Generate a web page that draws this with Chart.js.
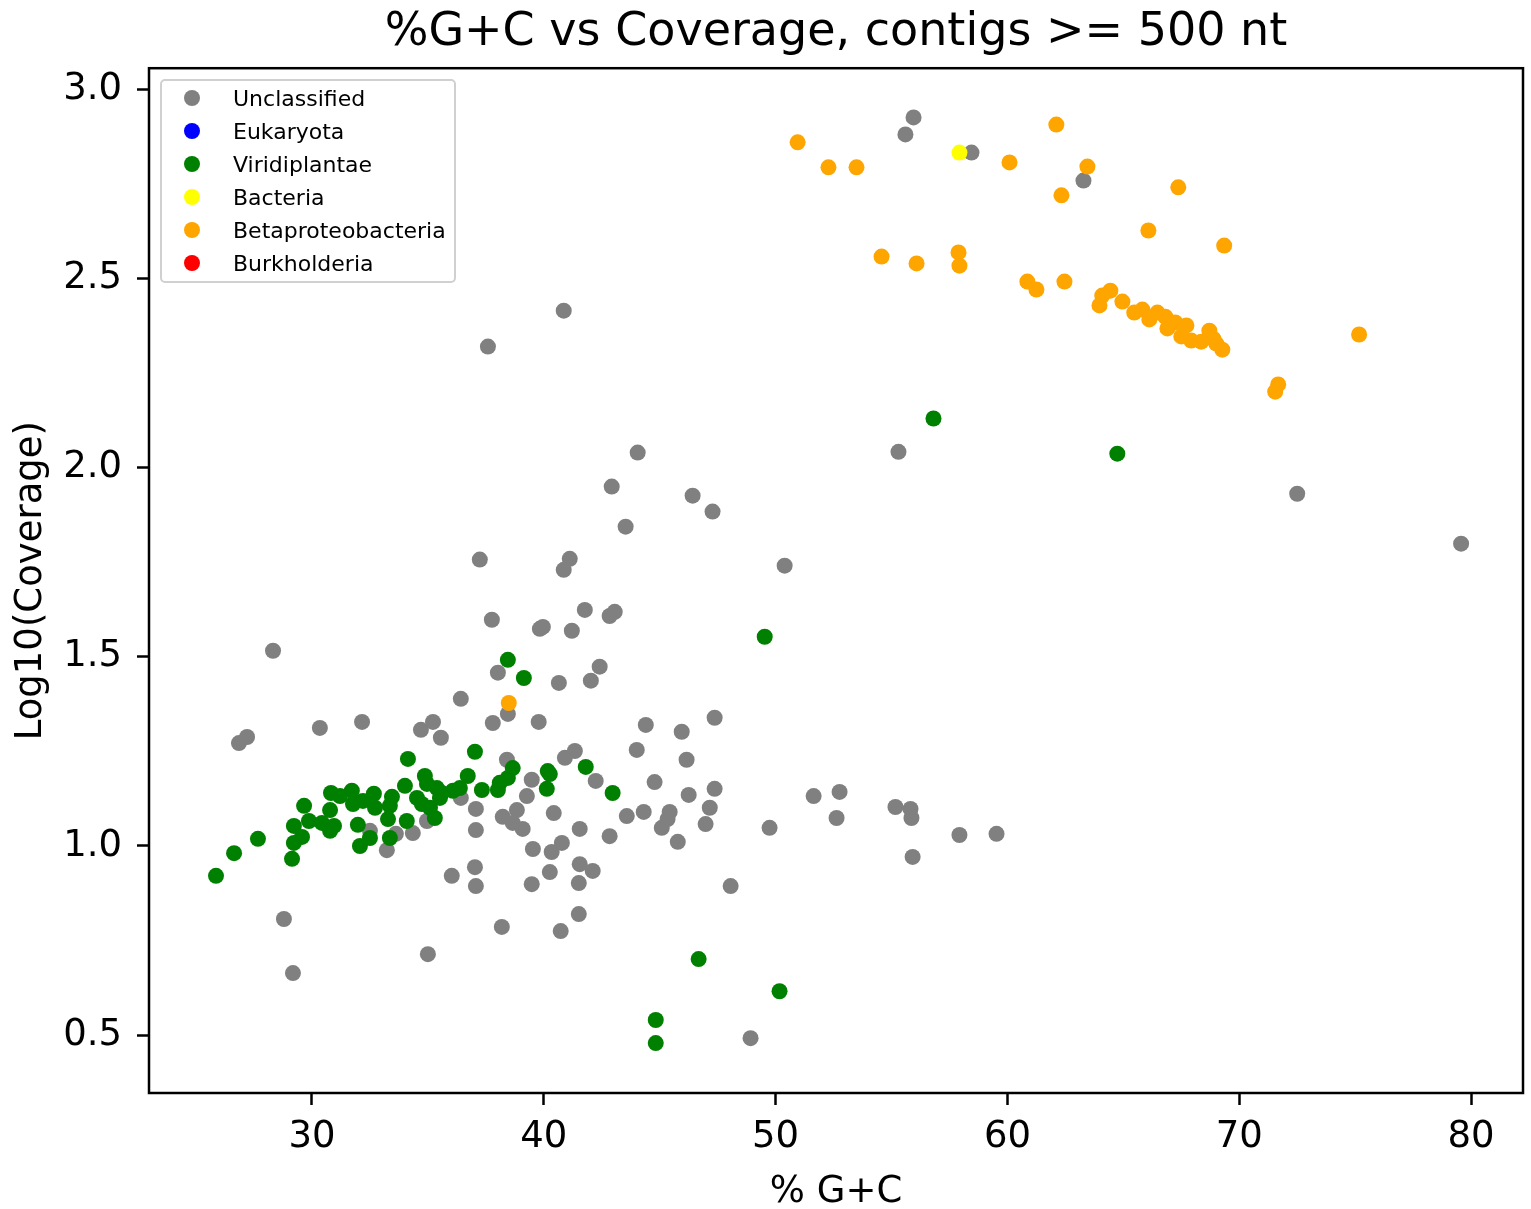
<!DOCTYPE html>
<html>
<head>
<meta charset="utf-8">
<title>%G+C vs Coverage</title>
<script src="https://cdn.jsdelivr.net/npm/chart.js@4.4.1/dist/chart.umd.min.js"></script>
<style>
  html, body { margin: 0; padding: 0; background: #ffffff; }
  #wrap { position: relative; width: 1531px; height: 1209px; }
  #legend {
    position: absolute; left: 160px; top: 79px; width: 292px; height: 200px;
    border: 2px solid #d0d0d0; border-radius: 5px; background: rgba(255,255,255,0.8);
    font-family: "DejaVu Sans", sans-serif; font-size: 22px; color: #000;
  }
  #legend .item { position: absolute; left: 0; height: 33px; width: 100%; }
  #legend .dot { position: absolute; left: 22px; top: 8px; width: 16px; height: 16px; border-radius: 50%; }
  #legend .lbl { position: absolute; left: 71px; top: 0; line-height: 33px; white-space: nowrap; }
</style>
</head>
<body>
<div id="wrap">
  <canvas id="chart" width="1531" height="1209"></canvas>
  <div id="legend"></div>
</div>
<script>
// Taxonomic groups, in plotting order
const groups = ["Unclassified", "Eukaryota", "Viridiplantae", "Bacteria", "Betaproteobacteria", "Burkholderia"];
const groupColors = ["#808080", "#0000ff", "#008000", "#ffff00", "#ffa500", "#ff0000"];

// % G+C and log10(coverage) per contig, by group
const gcUnclassified = [55.95,55.60,58.45,63.28,40.86,37.59,44.05,55.30,72.50,79.57,42.93,46.42,47.28,43.53,41.12,37.24,40.86,50.39,41.77,43.06,42.84,37.76,39.96,39.83,41.21,28.32,42.41,38.02,40.65,42.03,36.42,38.45,39.78,32.16,30.34,35.22,34.70,35.56,37.80,44.40,45.95,47.37,27.20,26.85,44.01,41.34,38.41,40.91,46.16,42.24,39.48,44.78,47.37,39.27,46.25,51.64,52.76,47.16,55.17,55.82,37.07,38.84,40.43,38.23,38.66,39.09,43.58,44.31,45.43,45.34,45.09,52.63,55.86,37.07,41.55,46.98,49.74,42.84,45.78,57.93,59.53,34.35,33.62,32.50,33.23,34.96,36.42,39.53,40.34,40.78,37.03,36.03,37.07,40.26,41.55,42.11,39.48,41.51,48.06,41.51,38.19,40.73,28.79,29.18,35.00,48.92,55.91];
const covUnclassified = [2.926,2.881,2.833,2.759,2.415,2.320,2.040,2.042,1.931,1.799,1.950,1.926,1.884,1.844,1.759,1.757,1.730,1.741,1.624,1.619,1.608,1.598,1.579,1.574,1.569,1.516,1.474,1.458,1.431,1.437,1.389,1.349,1.328,1.328,1.312,1.328,1.307,1.286,1.325,1.320,1.302,1.339,1.288,1.272,1.254,1.251,1.228,1.233,1.228,1.172,1.175,1.169,1.151,1.132,1.135,1.132,1.143,1.101,1.103,1.098,1.098,1.095,1.087,1.077,1.061,1.045,1.079,1.090,1.090,1.071,1.048,1.074,1.074,1.042,1.045,1.058,1.048,1.026,1.011,1.029,1.032,1.034,1.032,1.040,0.989,1.066,1.127,0.992,0.984,1.008,0.944,0.921,0.894,0.931,0.952,0.934,0.899,0.902,0.894,0.820,0.786,0.775,0.807,0.664,0.714,0.492,0.971];

const gcEukaryota = [];
const covEukaryota = [];

const gcViridiplantae = [25.86,26.64,27.67,29.14,29.22,29.57,29.22,29.66,29.87,30.43,30.78,30.95,30.82,31.21,30.78,31.72,31.77,31.98,32.07,32.50,32.20,32.67,32.72,33.28,33.36,33.45,33.36,34.01,34.09,34.14,34.53,34.74,34.87,34.96,35.09,35.30,35.39,35.60,35.52,36.08,36.38,36.72,37.03,37.33,38.02,38.10,38.45,38.66,38.45,39.14,40.17,40.26,40.13,41.81,42.97,49.53,56.81,64.74,46.68,50.17,44.83,44.83];
const covViridiplantae = [0.921,0.981,1.019,0.966,1.008,1.024,1.053,1.106,1.066,1.061,1.040,1.053,1.140,1.132,1.095,1.146,1.111,1.056,1.000,1.021,1.119,1.138,1.101,1.071,1.021,1.130,1.106,1.159,1.066,1.230,1.127,1.111,1.185,1.164,1.101,1.074,1.153,1.140,1.127,1.146,1.153,1.185,1.249,1.148,1.148,1.167,1.180,1.206,1.492,1.444,1.198,1.190,1.151,1.209,1.140,1.553,2.130,2.037,0.701,0.616,0.540,0.479];

const gcBacteria = [57.93];
const covBacteria = [2.833];

const gcBetaproteobacteria = [50.95,52.28,53.49,62.11,60.09,63.45,62.33,67.37,66.08,69.35,54.57,56.08,57.89,57.93,60.86,61.25,62.46,63.97,64.09,64.44,64.96,65.47,65.82,66.12,66.47,66.81,66.90,67.24,67.50,67.72,67.93,68.36,68.71,68.88,69.01,69.27,75.17,71.68,71.55,38.49];
const covBetaproteobacteria = [2.860,2.794,2.794,2.907,2.807,2.796,2.720,2.741,2.627,2.587,2.558,2.540,2.569,2.534,2.492,2.471,2.492,2.429,2.455,2.468,2.439,2.410,2.418,2.392,2.410,2.399,2.368,2.384,2.347,2.376,2.336,2.333,2.362,2.341,2.328,2.312,2.352,2.220,2.201,1.378];

const gcBurkholderia = [];
const covBurkholderia = [];

// Axis ticks and ranges
const xTicks = [30, 40, 50, 60, 70, 80];
const yTicks = [0.5, 1.0, 1.5, 2.0, 2.5, 3.0];
const xRange = [22.97, 82.24];
const yRange = [0.347, 3.056];

const seriesX = [gcUnclassified, gcEukaryota, gcViridiplantae, gcBacteria, gcBetaproteobacteria, gcBurkholderia];
const seriesY = [covUnclassified, covEukaryota, covViridiplantae, covBacteria, covBetaproteobacteria, covBurkholderia];

const FONT = "DejaVu Sans";

const datasets = groups.map((name, i) => ({
  label: name,
  data: seriesX[i].map((x, k) => ({ x: x, y: seriesY[i][k] })),
  backgroundColor: groupColors[i],
  borderColor: groupColors[i],
  borderWidth: 0,
  pointRadius: 8,
  pointHoverRadius: 8,
  // later groups are painted above earlier ones
  order: groups.length - 1 - i
}));

// Full box around the plotting area
const frame = {
  id: "frame",
  afterDraw(chart) {
    const { ctx, chartArea: a } = chart;
    ctx.save();
    ctx.strokeStyle = "#000";
    ctx.lineWidth = 2.5;
    ctx.strokeRect(a.left, a.top, a.right - a.left, a.bottom - a.top);
    ctx.restore();
  }
};

const chart = new Chart(document.getElementById("chart"), {
  type: "scatter",
  data: { datasets },
  plugins: [frame],
  options: {
    responsive: false,
    animation: false,
    events: [],
    layout: { padding: { left: 0, right: 7, top: 0, bottom: 0 } },
    plugins: {
      legend: { display: false },
      tooltip: { enabled: false },
      title: {
        display: true,
        fullSize: false,
        text: "%G+C vs Coverage, contigs >= 500 nt",
        color: "#000",
        font: { family: FONT, size: 46, weight: "normal", lineHeight: 1.2 },
        padding: { top: 5, bottom: 8 }
      }
    },
    scales: {
      x: {
        type: "linear",
        min: xRange[0],
        max: xRange[1],
        afterBuildTicks: s => { s.ticks = xTicks.map(v => ({ value: v })); },
        afterFit: s => { s.height = 116; },
        border: { display: false },
        grid: { display: true, drawOnChartArea: false, drawTicks: true, tickLength: 12, tickColor: "#000", tickWidth: 2.5 },
        ticks: { color: "#000", padding: 10, font: { family: FONT, size: 37 }, callback: v => String(v) },
        title: { display: true, text: "% G+C", color: "#000", font: { family: FONT, size: 37, lineHeight: 0.9 }, padding: { top: 0, bottom: 0 } }
      },
      y: {
        type: "linear",
        min: yRange[0],
        max: yRange[1],
        afterBuildTicks: s => { s.ticks = yTicks.map(v => ({ value: v })); },
        afterFit: s => { s.width = 149; },
        border: { display: false },
        grid: { display: true, drawOnChartArea: false, drawTicks: true, tickLength: 12, tickColor: "#000", tickWidth: 2.5 },
        ticks: { color: "#000", padding: 15, font: { family: FONT, size: 37 }, callback: v => Number(v).toFixed(1) },
        title: { display: true, text: "Log10(Coverage)", color: "#000", font: { family: FONT, size: 37, lineHeight: 1 }, padding: { top: 13, bottom: 0 } }
      }
    }
  }
});

// Legend box listing every group
const legendEl = document.getElementById("legend");
chart.data.datasets.forEach((ds, i) => {
  const item = document.createElement("div");
  item.className = "item";
  item.style.top = (1 + i * 33) + "px";
  const dot = document.createElement("span");
  dot.className = "dot";
  dot.style.background = ds.backgroundColor;
  const lbl = document.createElement("span");
  lbl.className = "lbl";
  lbl.textContent = ds.label;
  item.appendChild(dot);
  item.appendChild(lbl);
  legendEl.appendChild(item);
});
</script>
</body>
</html>
